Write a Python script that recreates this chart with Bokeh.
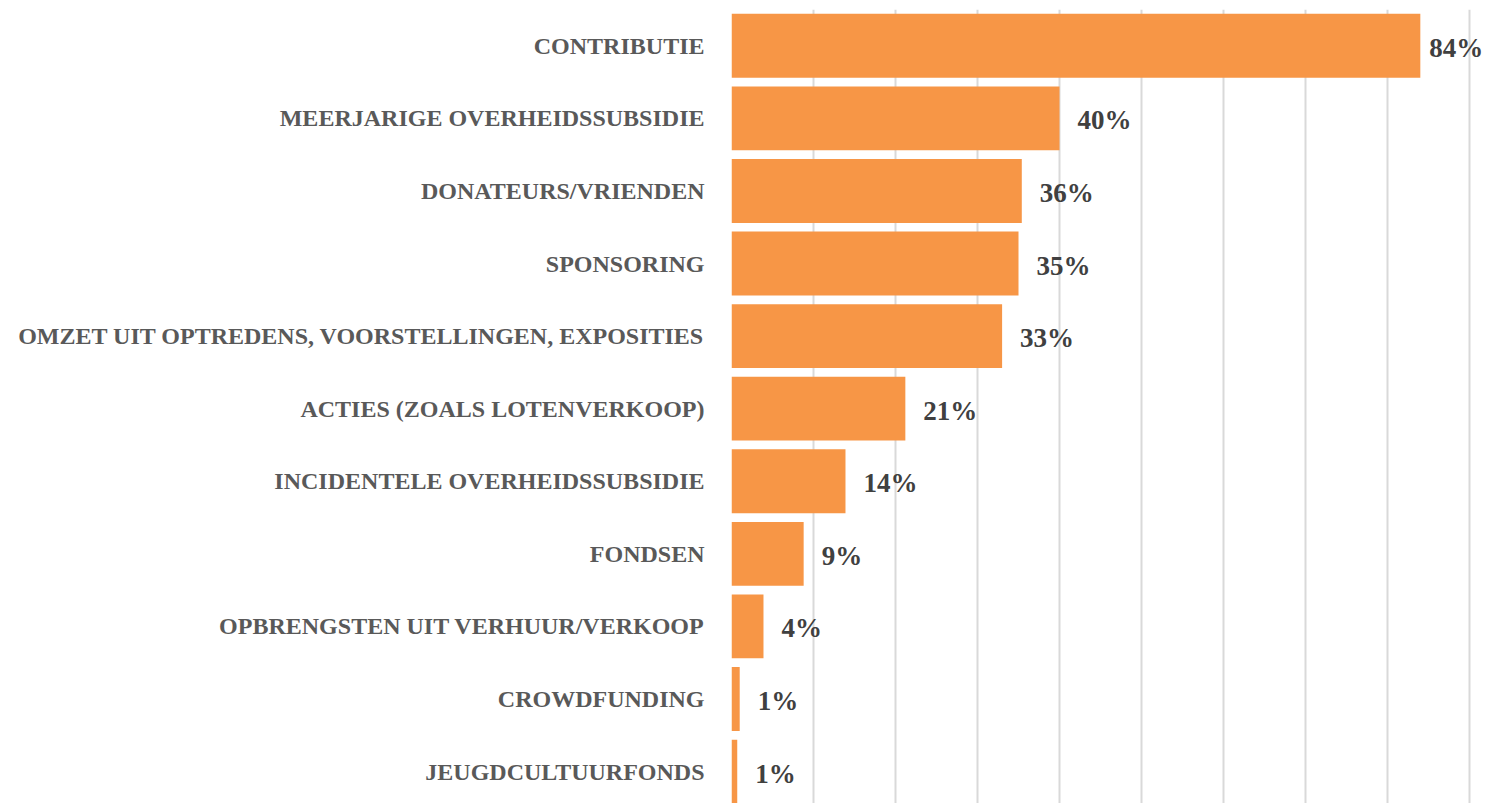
from bokeh.plotting import figure
from bokeh.models import ColumnDataSource, FixedTicker, Range1d
from bokeh.core.properties import value
from bokeh.embed import file_html
from bokeh.resources import INLINE
import numpy as np

categories = [
    "CONTRIBUTIE",
    "MEERJARIGE OVERHEIDSSUBSIDIE",
    "DONATEURS/VRIENDEN",
    "SPONSORING",
    "OMZET UIT OPTREDENS, VOORSTELLINGEN, EXPOSITIES",
    "ACTIES (ZOALS LOTENVERKOOP)",
    "INCIDENTELE OVERHEIDSSUBSIDIE",
    "FONDSEN",
    "OPBRENGSTEN UIT VERHUUR/VERKOOP",
    "CROWDFUNDING",
    "JEUGDCULTUURFONDS",
]
# bar lengths (percent)
values = [84, 40, 35.4, 35, 33, 21.2, 13.9, 8.8, 3.9, 1.0, 0.7]
# data labels as printed in the picture
labels = ["84%", "40%", "36%", "35%", "33%", "21%", "14%", "9%", "4%", "1%", "1%"]
grid_ticks = [0, 10, 20, 30, 40, 50, 60, 70, 80, 90]

n = len(categories)
ypos = list(range(n - 1, -1, -1))
vals = np.array(values)
src = ColumnDataSource(dict(
    y=ypos,
    v=values,
    lbl=labels,
    xo=np.where(vals > 80, 9, 18).tolist(),
))

p = figure(width=1486, height=803, output_backend="svg", toolbar_location=None,
           x_range=Range1d(0, 92.07), y_range=Range1d(-0.44, n - 0.5),
           x_axis_location=None, min_border_left=731, min_border_top=9,
           min_border_bottom=0, min_border_right=0)
p.outline_line_color = None
p.background_fill_color = "white"
p.border_fill_color = "white"

p.hbar(y="y", right="v", left=0, height=0.88, source=src,
       fill_color="#F79646", line_color=None)

p.text(x="v", y="y", text="lbl", source=src, x_offset="xo", y_offset=2,
       text_font=value("Liberation Serif"), text_font_style="bold",
       text_font_size="27px", text_color="#404040",
       text_baseline="middle", text_align="left")

p.xgrid.ticker = FixedTicker(ticks=grid_ticks)
p.xgrid.grid_line_color = "#D9D9D9"
p.xgrid.grid_line_width = 2
p.ygrid.grid_line_color = None

ya = p.yaxis[0]
ya.ticker = FixedTicker(ticks=ypos)
ya.major_label_overrides = {y: c for y, c in zip(ypos, categories)}
ya.axis_line_color = None
ya.major_tick_line_color = None
ya.minor_tick_line_color = None
ya.major_label_standoff = 21
ya.major_label_text_font = "Liberation Serif"
ya.major_label_text_font_style = "bold"
ya.major_label_text_font_size = "24px"
ya.major_label_text_color = "#595959"

open("out.html", "w").write(file_html(p, INLINE))
